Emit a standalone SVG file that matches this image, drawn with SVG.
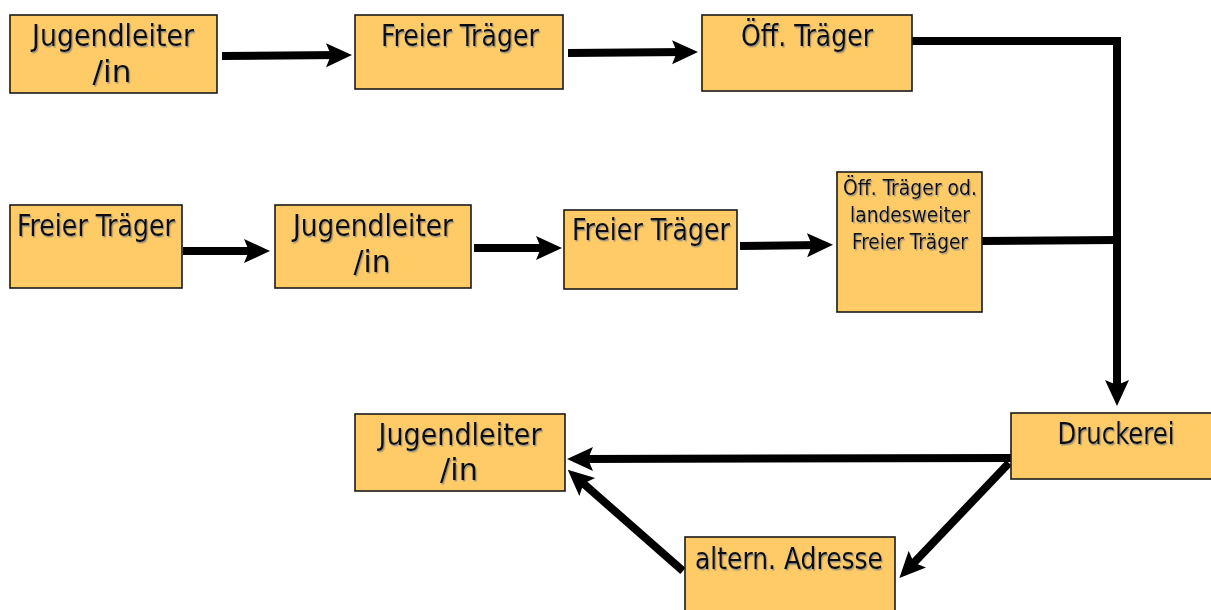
<svg xmlns="http://www.w3.org/2000/svg" width="1211" height="610" viewBox="0 0 1211 610">
<style>
.box{fill:#FFCB66;stroke:#1a1a1a;stroke-width:1.6}
.t{font-family:"Liberation Sans Narrow","DejaVu Sans Condensed","Liberation Sans",sans-serif;font-size:30px;fill:#111;text-anchor:middle;filter:url(#sh)}
.s{font-size:22px}
.c{fill:none;stroke:#000;stroke-width:8}
</style>
<defs>
<filter id="sh" x="-10%" y="-20%" width="130%" height="150%">
<feDropShadow dx="1.2" dy="1.5" stdDeviation="0.4" flood-color="#888" flood-opacity="0.8"/>
</filter>
<marker id="ah" markerUnits="userSpaceOnUse" viewBox="0 0 26 26" refX="15" refY="13" markerWidth="26" markerHeight="26" orient="auto">
<path d="M0,1 L26,13 L0,25 L5,13 z" fill="#000"/>
</marker>
</defs>

<g id="connectors">
<line class="c" x1="222" y1="56" x2="341" y2="55" marker-end="url(#ah)"/>
<line class="c" x1="568" y1="53" x2="687" y2="52" marker-end="url(#ah)"/>
<polyline class="c" points="912,41 1117,41 1117,395" stroke-linejoin="miter" marker-end="url(#ah)"/>
<line class="c" x1="982" y1="241" x2="1117" y2="240"/>
<line class="c" x1="183" y1="251" x2="259" y2="251" marker-end="url(#ah)"/>
<line class="c" x1="474" y1="248" x2="551" y2="248" marker-end="url(#ah)"/>
<line class="c" x1="740" y1="246" x2="822" y2="245" marker-end="url(#ah)"/>
<line class="c" x1="1011" y1="458" x2="578" y2="459" marker-end="url(#ah)"/>
<line class="c" x1="1009" y1="463" x2="907" y2="570" marker-end="url(#ah)"/>
<line class="c" x1="683" y1="571" x2="576" y2="477" marker-end="url(#ah)"/>
</g>

<g id="n1"><rect class="box" x="10" y="15" width="207" height="78"/>
<text class="t" x="113" y="46" textLength="162" lengthAdjust="spacingAndGlyphs">Jugendleiter</text>
<text class="t" x="112" y="82" textLength="39" lengthAdjust="spacingAndGlyphs">/in</text></g>

<g id="n2"><rect class="box" x="355" y="15" width="208" height="74"/>
<text class="t" x="460" y="46" textLength="158" lengthAdjust="spacingAndGlyphs">Freier Träger</text></g>

<g id="n3"><rect class="box" x="702" y="15" width="210" height="76"/>
<text class="t" x="807" y="46" textLength="132" lengthAdjust="spacingAndGlyphs">Öff. Träger</text></g>

<g id="n4"><rect class="box" x="10" y="205" width="172" height="83"/>
<text class="t" x="96" y="236" textLength="158" lengthAdjust="spacingAndGlyphs">Freier Träger</text></g>

<g id="n5"><rect class="box" x="275" y="205" width="196" height="83"/>
<text class="t" x="373" y="236" textLength="160" lengthAdjust="spacingAndGlyphs">Jugendleiter</text>
<text class="t" x="372" y="272" textLength="37" lengthAdjust="spacingAndGlyphs">/in</text></g>

<g id="n6"><rect class="box" x="564" y="210" width="173" height="79"/>
<text class="t" x="651" y="240" textLength="158" lengthAdjust="spacingAndGlyphs">Freier Träger</text></g>

<g id="n7"><rect class="box" x="837" y="172" width="145" height="140"/>
<text class="t s" x="910" y="195" textLength="134" lengthAdjust="spacingAndGlyphs">Öff. Träger od.</text>
<text class="t s" x="910" y="222" textLength="120" lengthAdjust="spacingAndGlyphs">landesweiter</text>
<text class="t s" x="910" y="249" textLength="116" lengthAdjust="spacingAndGlyphs">Freier Träger</text></g>

<g id="n8"><rect class="box" x="1011" y="413" width="210" height="66"/>
<text class="t" x="1116" y="444" textLength="117" lengthAdjust="spacingAndGlyphs">Druckerei</text></g>

<g id="n9"><rect class="box" x="355" y="414" width="210" height="77"/>
<text class="t" x="460" y="445" textLength="163" lengthAdjust="spacingAndGlyphs">Jugendleiter</text>
<text class="t" x="459" y="480" textLength="38" lengthAdjust="spacingAndGlyphs">/in</text></g>

<g id="n10"><rect class="box" x="685" y="537" width="210" height="80"/>
<text class="t" x="789" y="569" textLength="188" lengthAdjust="spacingAndGlyphs">altern. Adresse</text></g>
</svg>
